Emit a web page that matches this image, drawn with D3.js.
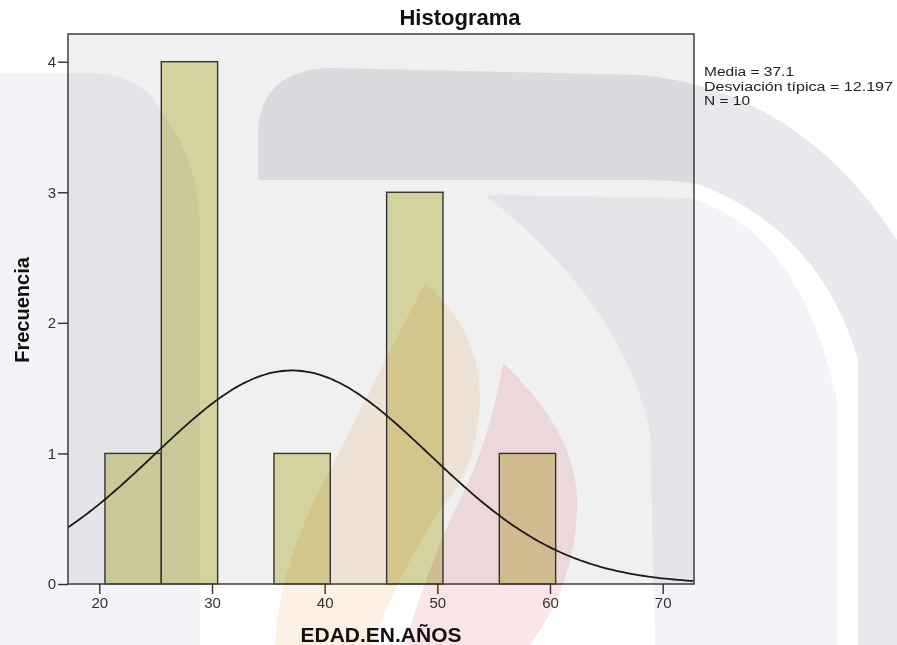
<!DOCTYPE html>
<html>
<head>
<meta charset="utf-8">
<script src="https://cdn.jsdelivr.net/npm/d3@7"></script>
<style>
  html, body { margin: 0; padding: 0; background: #fff; }
  svg { display: block; font-family: "Liberation Sans", Arial, sans-serif; }
</style>
</head>
<body>
<div id="chart"></div>
<script>
// datos del histograma (EDAD.EN.AÑOS)
const binStarts = [20.5, 25.5, 30.5, 35.5, 40.5, 45.5, 50.5, 55.5];
const counts = [1, 4, 0, 1, 0, 3, 0, 1];
const binWidth = 5;
const media = 37.1;
const desviacion = 12.197;
const n = 10;
const xTicks = [20, 30, 40, 50, 60, 70];
const yTicks = [0, 1, 2, 3, 4];
const statsLines = ["Media = 37.1", "Desviación típica = 12.197", "N = 10"];
const statsWidths = [90, 189, 46];

const W = 897, H = 645;
const plot = { left: 68, right: 694, top: 34, bottom: 584 };

const svg = d3.select("#chart").append("svg")
    .attr("width", W)
    .attr("height", H);

const x = d3.scaleLinear().domain([17.22, 72.78]).range([plot.left, plot.right]);
const y = d3.scaleLinear().domain([0, 4.212]).range([plot.bottom, plot.top]);

svg.append("defs").append("clipPath").attr("id", "plotClip")
    .append("rect")
    .attr("x", plot.left).attr("y", plot.top)
    .attr("width", plot.right - plot.left).attr("height", plot.bottom - plot.top);

// fondo del area
svg.append("rect")
    .attr("x", plot.left).attr("y", plot.top)
    .attr("width", plot.right - plot.left).attr("height", plot.bottom - plot.top)
    .attr("fill", "#f0f0f0");

// barras
const bins = binStarts.map((b, i) => ({ x0: b, x1: b + binWidth, count: counts[i] }))
    .filter(d => d.count > 0);

svg.append("g")
    .selectAll("rect")
    .data(bins)
    .join("rect")
    .attr("x", d => x(d.x0))
    .attr("y", d => y(d.count))
    .attr("width", d => x(d.x1) - x(d.x0))
    .attr("height", d => y(0) - y(d.count))
    .attr("fill", "#d4d29e")
    .attr("stroke", "#333")
    .attr("stroke-width", 1.4);

// curva normal (N * ancho * densidad)
const pdf = v => Math.exp(-0.5 * ((v - media) / desviacion) ** 2) / (desviacion * Math.sqrt(2 * Math.PI));
const curvePts = d3.range(x.domain()[0], x.domain()[1] + 0.1, 0.25);
svg.append("path")
    .datum(curvePts)
    .attr("clip-path", "url(#plotClip)")
    .attr("fill", "none")
    .attr("stroke", "#1a1a1a")
    .attr("stroke-width", 1.8)
    .attr("d", d3.line().x(d => x(d)).y(d => y(n * binWidth * pdf(d))).curve(d3.curveBasis));

// marco
svg.append("rect")
    .attr("x", plot.left).attr("y", plot.top)
    .attr("width", plot.right - plot.left).attr("height", plot.bottom - plot.top)
    .attr("fill", "none")
    .attr("stroke", "#4a4a4a")
    .attr("stroke-width", 1.6);

// ejes
const yAxis = svg.append("g")
    .attr("transform", `translate(${plot.left},0)`)
    .call(d3.axisLeft(y).tickValues(yTicks).tickSize(10).tickPadding(2).tickFormat(d3.format("d")));
const xAxis = svg.append("g")
    .attr("transform", `translate(0,${plot.bottom})`)
    .call(d3.axisBottom(x).tickValues(xTicks).tickSize(10).tickPadding(3).tickFormat(d3.format("d")));

[yAxis, xAxis].forEach(ax => {
    ax.select(".domain").remove();
    ax.selectAll(".tick line").attr("stroke", "#333").attr("stroke-width", 1.4);
    ax.selectAll(".tick text")
        .attr("fill", "#333")
        .style("font-size", "15px")
        .style("font-family", "'Liberation Sans', Arial, sans-serif");
});

// titulos
svg.append("text")
    .attr("x", 460).attr("y", 25)
    .attr("text-anchor", "middle")
    .style("font-size", "22px").style("font-weight", "bold")
    .attr("fill", "#111")
    .text("Histograma");

svg.append("text")
    .attr("x", (plot.left + plot.right) / 2).attr("y", 642)
    .attr("text-anchor", "middle")
    .style("font-size", "21px").style("font-weight", "bold")
    .attr("fill", "#111")
    .text("EDAD.EN.AÑOS");

svg.append("text")
    .attr("transform", `translate(29,${(plot.top + plot.bottom) / 2 + 1}) rotate(-90)`)
    .attr("text-anchor", "middle")
    .style("font-size", "20px").style("font-weight", "bold")
    .attr("fill", "#111")
    .text("Frecuencia");

// estadisticos
svg.append("g")
    .selectAll("text")
    .data(statsLines)
    .join("text")
    .attr("x", 704)
    .attr("y", (d, i) => 76 + i * 14.6)
    .attr("textLength", (d, i) => statsWidths[i])
    .attr("lengthAdjust", "spacingAndGlyphs")
    .style("font-size", "12.5px")
    .attr("fill", "#222")
    .text(d => d);

// marca de agua de fondo (muy tenue)
const wm = svg.append("g").style("mix-blend-mode", "multiply").style("pointer-events", "none");
wm.append("path")
    .attr("fill", "#f4f4f8")
    .attr("d", "M0,73 L90,73 Q145,75 160,110 Q200,160 200,230 L200,645 L0,645 Z");
wm.append("path")
    .attr("fill", "#e8e8ed")
    .attr("d", "M258,180 L258,130 Q262,70 330,68 L640,75 Q800,90 897,240 L897,645 L858,645 L858,360 Q820,230 700,185 Q680,180 640,180 Z");
wm.append("path")
    .attr("fill", "#f4f4f8")
    .attr("d", "M485,195 L690,198 Q800,230 837,400 L837,645 L655,645 L650,430 Q620,300 485,195 Z");
wm.append("path")
    .attr("fill", "#fdf1e4")
    .attr("d", "M425,283 Q480,330 480,400 Q478,470 440,510 Q400,570 372,645 L275,645 Q280,560 330,470 Q370,390 425,283 Z");
wm.append("path")
    .attr("fill", "#fbe5e9")
    .attr("d", "M503,363 Q575,430 577,500 Q578,580 530,645 L405,645 Q430,560 460,500 Q490,440 503,363 Z");
</script>
</body>
</html>
